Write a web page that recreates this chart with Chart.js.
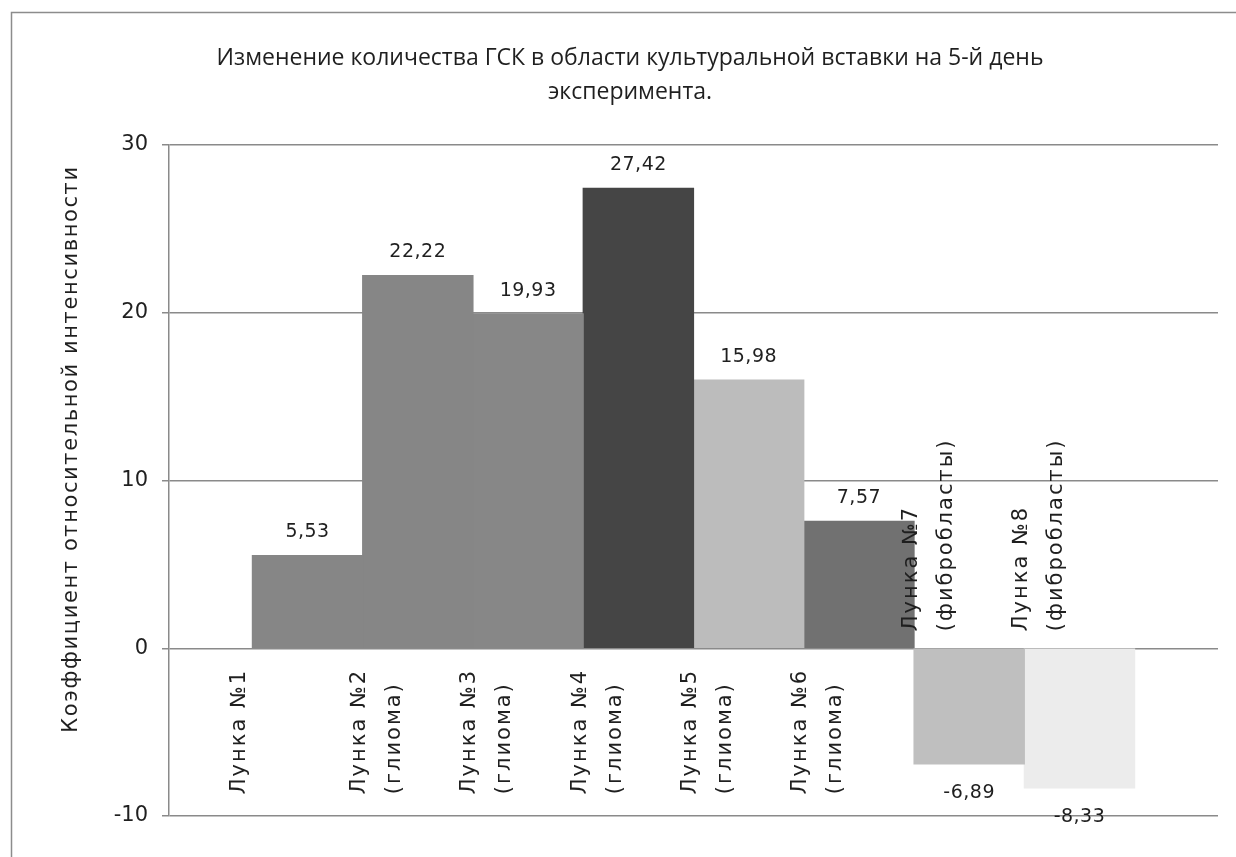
<!DOCTYPE html>
<html lang="ru">
<head>
<meta charset="utf-8">
<title>Изменение количества ГСК</title>
<script src="https://cdn.jsdelivr.net/npm/chart.js@4/dist/chart.umd.min.js"></script>
<style>
    html, body { margin: 0; padding: 0; background: #fff; }
    canvas { display: block; }
</style>
</head>
<body>
<canvas id="myChart" width="1236" height="857"></canvas>
<script>
    // данные
    const wells = ["Лунка №1", "Лунка №2", "Лунка №3", "Лунка №4", "Лунка №5", "Лунка №6", "Лунка №7", "Лунка №8"];
    const wellTypes = ["", "(глиома)", "(глиома)", "(глиома)", "(глиома)", "(глиома)", "(фибробласты)", "(фибробласты)"];
    const values = [5.53, 22.22, 19.93, 27.42, 15.98, 7.57, -6.89, -8.33];
    const barColors = ["#868686", "#868686", "#878787", "#454545", "#bcbcbc", "#717171", "#bfbfbf", "#ececec"];
    const yTicks = [-10, 0, 10, 20, 30];

    const titleLines = ["Изменение количества ГСК в области культуральной вставки на 5-й день", "эксперимента."];
    const yTitle = "Коэффициент относительной интенсивности";

    const textColor = "#1f1f1f";
    const lineColor = "#8a8a8a";

    // один датасет на лунку (как в Excel: 8 рядов в одной категории)
    const datasets = values.map((v, i) => ({
        label: wells[i],
        data: [v],
        backgroundColor: barColors[i],
        borderWidth: 0,
        inflateAmount: 0.6
    }));

    const fmt = v => v.toFixed(2).replace(".", ",");

    // рамка, заголовок, подписи осей и значения
    const decorations = {
        id: "decorations",
        beforeDraw(chart) {
            const ctx = chart.ctx;
            ctx.save();
            ctx.strokeStyle = "#8c8c8c";
            ctx.lineWidth = 1.5;
            ctx.strokeRect(11.5, 12.5, 1400, 1000);

            ctx.fillStyle = textColor;
            ctx.font = "23px 'Open Sans'";
            ctx.textAlign = "center";
            ctx.textBaseline = "middle";
            ctx.fillText(titleLines[0], 630, 58);
            ctx.fillText(titleLines[1], 630, 92);

            ctx.font = "21px 'DejaVu Sans'";
            ctx.letterSpacing = "1.6px";
            ctx.translate(72, 449);
            ctx.rotate(-Math.PI / 2);
            ctx.fillText(yTitle, 0, 0);
            ctx.restore();
        },
        afterDatasetsDraw(chart) {
            const ctx = chart.ctx;
            const zeroY = chart.scales.y.getPixelForValue(0);
            ctx.save();
            ctx.fillStyle = textColor;
            ctx.textBaseline = "middle";

            chart.data.datasets.forEach((ds, i) => {
                const bar = chart.getDatasetMeta(i).data[0];
                const v = ds.data[0];
                const left = bar.x - bar.width / 2;

                // значение над/под столбиком
                ctx.font = "19px 'DejaVu Sans'";
                ctx.letterSpacing = "0.5px";
                ctx.textAlign = "center";
                if (v >= 0) {
                    ctx.fillText(fmt(v), bar.x, bar.y - 23);
                } else {
                    ctx.fillText(fmt(v), bar.x, bar.y + 29);
                }

                // повернутые подписи лунок
                const lines = wellTypes[i] ? [wells[i], wellTypes[i]] : [wells[i]];
                const startY = v >= 0 ? zeroY + 146 : zeroY - 17;
                ctx.font = "21px 'DejaVu Sans'";
                ctx.letterSpacing = "2px";
                ctx.textAlign = "left";
                lines.forEach((txt, j) => {
                    let cx = left - 3 + 35 * j;
                    if (lines.length === 1) cx = left - 13;
                    ctx.save();
                    ctx.translate(cx, startY);
                    ctx.rotate(-Math.PI / 2);
                    ctx.fillText(txt, 0, 0);
                    ctx.restore();
                });
            });
            ctx.restore();
        }
    };

    const ctx = document.getElementById("myChart").getContext("2d");

    const myChart = new Chart(ctx, {
        type: "bar",
        data: {
            labels: [""],
            datasets: datasets
        },
        options: {
            responsive: false,
            animation: false,
            devicePixelRatio: 1,
            layout: {
                padding: { left: 0, top: 145, right: 18, bottom: 41 }
            },
            datasets: {
                bar: {
                    categoryPercentage: 0.841,
                    barPercentage: 1
                }
            },
            scales: {
                x: {
                    display: false
                },
                y: {
                    min: yTicks[0],
                    max: yTicks[yTicks.length - 1],
                    afterBuildTicks(scale) {
                        scale.ticks = yTicks.map(v => ({ value: v }));
                    },
                    afterFit(scale) {
                        scale.width = 169;
                    },
                    ticks: {
                        padding: 14,
                        color: textColor,
                        font: { family: "DejaVu Sans", size: 21 }
                    },
                    grid: {
                        color: lineColor,
                        lineWidth: 1.5,
                        tickLength: 7
                    },
                    border: {
                        color: lineColor,
                        width: 1.5
                    }
                }
            },
            plugins: {
                legend: { display: false },
                title: { display: false },
                tooltip: { enabled: false }
            }
        },
        plugins: [decorations]
    });
</script>
</body>
</html>
